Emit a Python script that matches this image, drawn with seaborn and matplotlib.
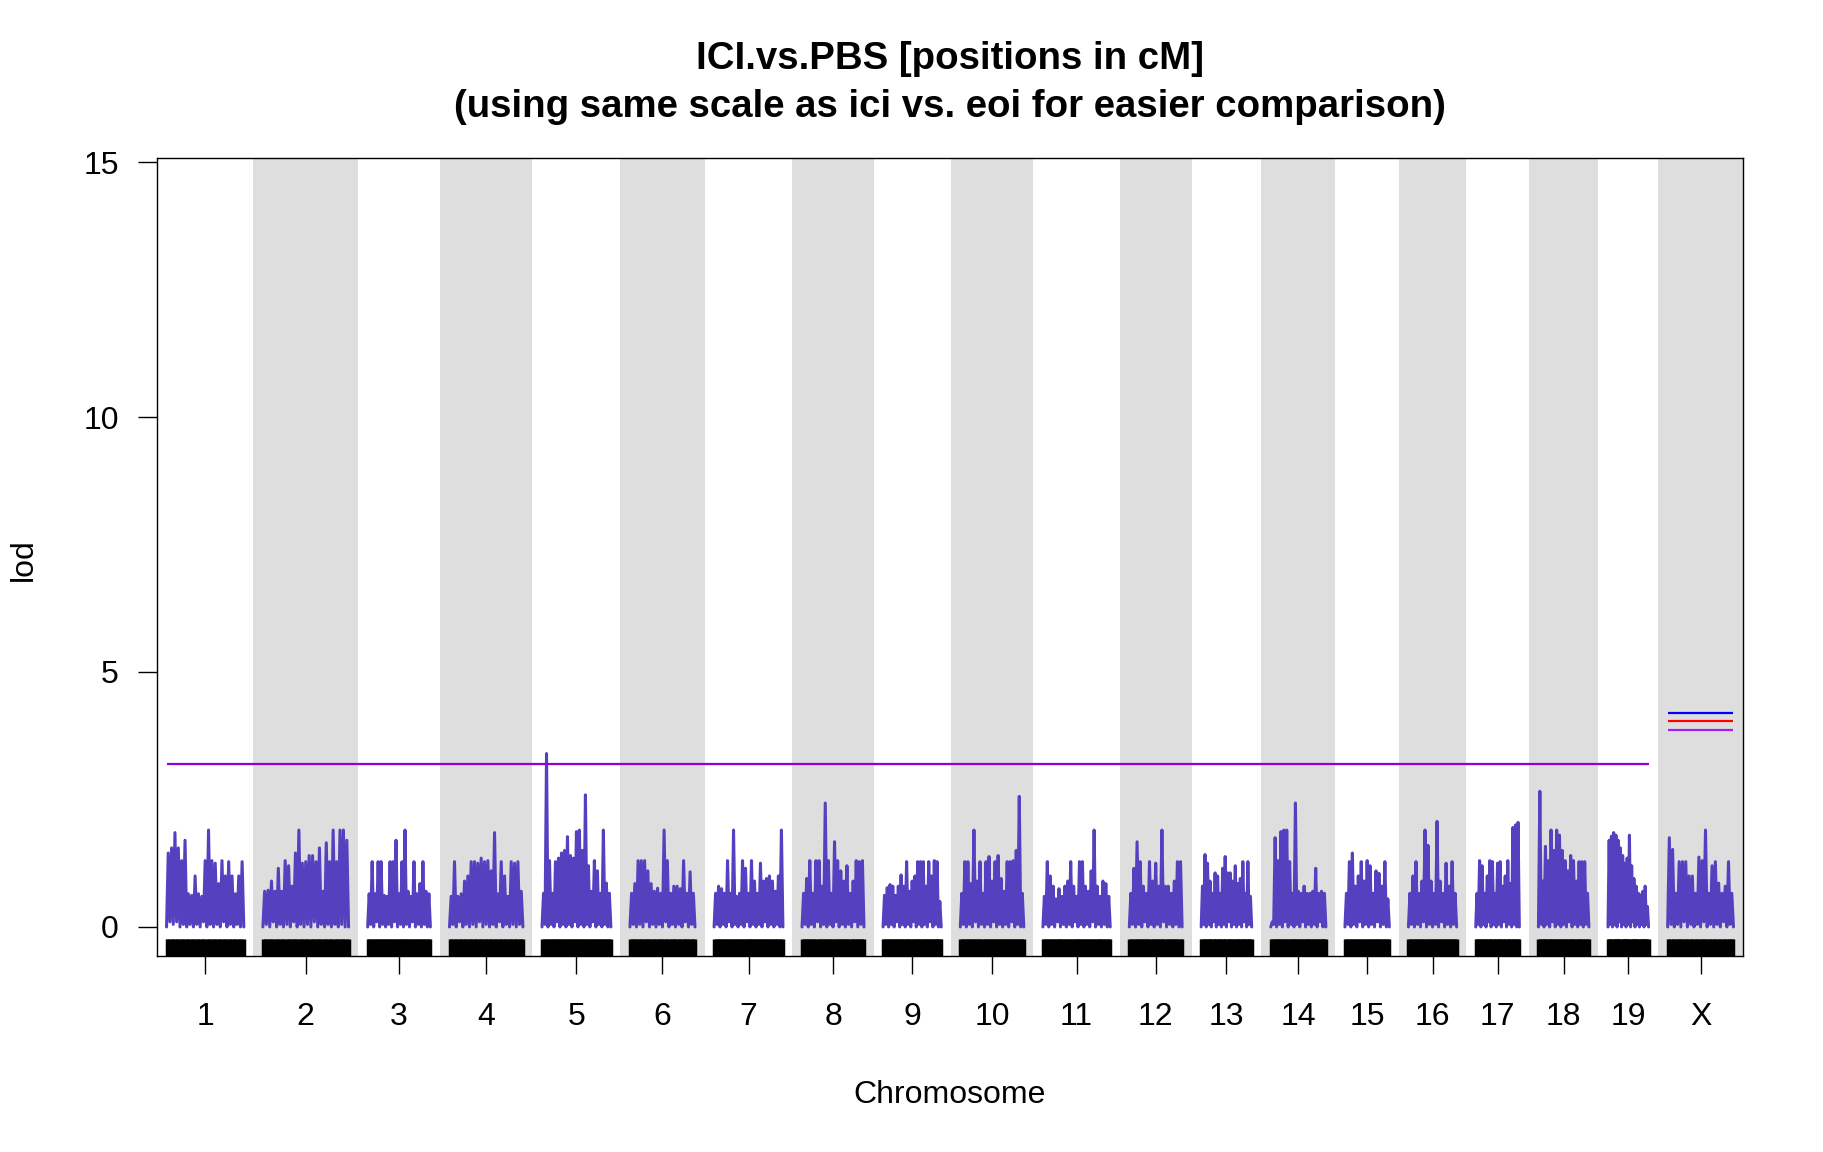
import numpy as np
import pandas as pd
import matplotlib
matplotlib.use("Agg")
import matplotlib.pyplot as plt
import seaborn as sns

# chromosome layout (cM) and gap between chromosomes
chrom_names = ['1', '2', '3', '4', '5', '6', '7', '8', '9', '10',
               '11', '12', '13', '14', '15', '16', '17', '18', '19', 'X']
chrom_len = [101, 112, 82, 96, 90, 85, 90, 81, 76, 83,
             88, 69, 66, 72, 58, 63, 57, 66, 53, 86]
gap = 25

# lod scores, marker by marker (approx.)
lod_chr1 = [0.0, 1.45, 0.1, 1.55, 0.05, 1.85, 0.1, 1.55, 0.0, 1.3, 0.05, 1.7, 0.0, 0.65, 0.05, 0.62,
            0.0, 1.0, 0.05, 0.65, 0.0, 0.6, 0.1, 1.3, 0.0, 1.9, 0.05, 1.3, 0.0, 1.25, 0.05, 0.85,
            0.0, 1.3, 0.1, 1.0, 0.0, 1.28, 0.05, 1.0, 0.0, 0.65, 0.05, 1.0, 0.0, 1.28, 0.0]
lod_chr2 = [0.0, 0.7, 0.05, 0.72, 0.0, 0.9, 0.1, 0.7, 0.0, 1.15, 0.05, 0.7, 0.0, 1.3, 0.05, 1.2,
            0.0, 0.8, 0.1, 1.45, 0.0, 1.9, 0.05, 1.25, 0.0, 1.28, 0.05, 1.4, 0.0, 1.4, 0.1, 1.28,
            0.0, 1.55, 0.05, 0.7, 0.0, 1.65, 0.05, 1.28, 0.0, 1.9, 0.05, 1.28, 0.0, 1.9, 0.05, 1.9,
            0.0, 1.7, 0.0]
lod_chr3 = [0.0, 0.65, 0.05, 1.28, 0.0, 0.65, 0.1, 1.28, 0.0, 1.28, 0.05, 0.62, 0.0, 0.6, 0.05, 1.28,
            0.0, 1.28, 0.1, 1.7, 0.0, 0.65, 0.05, 1.28, 0.0, 1.9, 0.05, 0.7, 0.0, 0.6, 0.1, 1.28,
            0.0, 0.65, 0.05, 0.85, 0.0, 1.28, 0.05, 0.7, 0.0, 0.65, 0.0]
lod_chr4 = [0.0, 0.6, 0.05, 1.28, 0.0, 0.6, 0.1, 0.65, 0.0, 0.9, 0.05, 1.0, 0.0, 1.28, 0.05, 1.28,
            0.0, 1.25, 0.1, 1.35, 0.0, 1.28, 0.05, 1.3, 0.0, 1.1, 0.05, 1.85, 0.0, 0.65, 0.1, 1.28,
            0.0, 1.0, 0.05, 0.6, 0.0, 1.28, 0.05, 1.25, 0.0, 1.28, 0.05, 0.7, 0.0]
lod_chr5 = [0.0, 0.66, 0.05, 3.4, 0.0, 1.3, 0.05, 0.66, 0.0, 1.28, 0.1, 1.35, 0.0, 1.45, 0.05, 1.5,
            0.0, 1.77, 0.05, 1.4, 0.0, 1.35, 0.1, 1.87, 0.0, 1.9, 0.05, 1.5, 0.0, 2.59, 0.05, 1.2,
            0.0, 0.7, 0.1, 1.3, 0.0, 1.1, 0.05, 0.66, 0.0, 1.9, 0.05, 0.86, 0.0, 0.66, 0.0]
lod_chr6 = [0.0, 0.66, 0.05, 0.85, 0.0, 1.3, 0.05, 1.3, 0.0, 1.3, 0.1, 1.1, 0.0, 0.85, 0.05, 0.7,
            0.0, 0.76, 0.05, 0.66, 0.0, 1.9, 0.1, 1.3, 0.0, 0.66, 0.05, 0.8, 0.0, 0.8, 0.05, 0.75,
            0.0, 1.3, 0.1, 0.66, 0.0, 1.08, 0.05, 0.66, 0.0]
lod_chr7 = [0.0, 0.66, 0.05, 0.8, 0.0, 0.75, 0.05, 0.66, 0.0, 1.3, 0.1, 0.66, 0.0, 1.9, 0.05, 0.6,
            0.0, 0.66, 0.05, 1.3, 0.0, 1.15, 0.1, 0.66, 0.0, 1.3, 0.05, 0.9, 0.0, 0.66, 0.05, 1.25,
            0.0, 0.9, 0.1, 0.95, 0.0, 1.0, 0.05, 0.9, 0.0, 0.7, 0.05, 1.0, 0.0, 1.9, 0.0]
lod_chr8 = [0.0, 0.66, 0.05, 0.95, 0.0, 1.3, 0.05, 0.66, 0.0, 1.3, 0.1, 1.3, 0.0, 0.8, 0.05, 2.43,
            0.0, 1.3, 0.05, 0.66, 0.0, 1.67, 0.1, 1.3, 0.0, 1.1, 0.05, 0.9, 0.0, 1.2, 0.05, 0.66,
            0.0, 0.9, 0.1, 1.3, 0.0, 1.28, 0.05, 1.3, 0.0]
lod_chr9 = [0.0, 0.62, 0.05, 0.77, 0.0, 0.83, 0.05, 0.8, 0.0, 0.62, 0.1, 0.8, 0.0, 1.02, 0.05, 0.8,
            0.0, 1.28, 0.05, 0.7, 0.0, 0.9, 0.1, 1.0, 0.0, 1.28, 0.05, 1.28, 0.0, 1.28, 0.05, 0.8,
            0.0, 1.28, 0.1, 1.0, 0.0, 1.3, 0.05, 1.28, 0.0, 0.5, 0.0]
lod_chr10 = [0.0, 0.66, 0.05, 1.28, 0.0, 1.28, 0.05, 0.85, 0.0, 1.9, 0.1, 0.9, 0.0, 1.28, 0.05, 0.66,
             0.0, 1.28, 0.05, 1.38, 0.0, 0.9, 0.1, 1.28, 0.0, 1.4, 0.05, 0.95, 0.0, 0.7, 0.05, 1.28,
             0.0, 1.28, 0.1, 1.3, 0.0, 1.5, 0.05, 2.56, 0.0, 0.66, 0.0]
lod_chr11 = [0.0, 0.6, 0.05, 1.28, 0.0, 1.0, 0.05, 0.8, 0.0, 0.55, 0.1, 0.75, 0.0, 0.6, 0.05, 0.8,
             0.0, 0.9, 0.05, 1.28, 0.0, 0.8, 0.1, 0.6, 0.0, 1.28, 0.05, 1.28, 0.0, 0.8, 0.05, 0.7,
             0.0, 1.1, 0.1, 1.9, 0.0, 0.8, 0.05, 0.6, 0.0, 0.9, 0.05, 0.85, 0.0, 0.6, 0.0]
lod_chr12 = [0.0, 0.66, 0.05, 1.15, 0.0, 1.67, 0.05, 1.28, 0.0, 0.8, 0.1, 0.66, 0.0, 1.28, 0.05, 0.9,
             0.0, 1.25, 0.05, 0.8, 0.0, 1.9, 0.1, 0.8, 0.0, 0.8, 0.05, 0.66, 0.0, 0.9, 0.05, 1.28,
             0.0, 1.28, 0.0]
lod_chr13 = [0.0, 0.8, 0.05, 1.42, 0.0, 1.25, 0.05, 0.9, 0.0, 0.66, 0.1, 1.06, 0.0, 1.0, 0.05, 0.66,
             0.0, 1.15, 0.05, 1.38, 0.0, 1.06, 0.1, 1.06, 0.0, 0.9, 0.05, 1.2, 0.0, 0.85, 0.05, 0.95,
             0.0, 1.28, 0.1, 0.66, 0.0, 1.28, 0.05, 0.6, 0.0]
lod_chr14 = [0.0, 0.1, 0.05, 1.75, 0.0, 1.3, 0.05, 1.87, 0.0, 1.9, 0.1, 1.9, 0.0, 1.28, 0.05, 0.66,
             0.0, 2.43, 0.05, 0.7, 0.0, 0.66, 0.1, 0.8, 0.0, 0.66, 0.05, 0.66, 0.0, 0.7, 0.05, 1.15,
             0.0, 0.66, 0.1, 0.7, 0.0, 0.66, 0.0]
lod_chr15 = [0.0, 0.66, 0.05, 1.28, 0.0, 1.45, 0.05, 0.8, 0.0, 1.0, 0.1, 1.28, 0.0, 0.9, 0.05, 1.3,
             0.0, 1.2, 0.05, 0.66, 0.0, 1.1, 0.1, 1.05, 0.0, 0.8, 0.05, 1.28, 0.0, 0.55, 0.0]
lod_chr16 = [0.0, 0.66, 0.05, 1.0, 0.0, 1.28, 0.05, 0.66, 0.0, 0.9, 0.1, 1.9, 0.0, 1.6, 0.05, 0.9,
             0.0, 0.66, 0.05, 2.07, 0.0, 0.9, 0.1, 0.66, 0.0, 1.25, 0.05, 0.8, 0.0, 1.28, 0.05, 0.66,
             0.0]
lod_chr17 = [0.0, 0.66, 0.05, 1.3, 0.0, 1.2, 0.05, 0.66, 0.0, 1.0, 0.1, 1.3, 0.0, 1.28, 0.05, 0.66,
             0.0, 1.25, 0.05, 1.28, 0.0, 0.8, 0.1, 1.0, 0.0, 1.3, 0.05, 0.85, 0.0, 1.95, 0.05, 2.0,
             0.0, 2.05, 0.0]
lod_chr18 = [0.0, 2.66, 0.05, 0.9, 0.0, 1.58, 0.05, 1.3, 0.0, 1.9, 0.1, 1.5, 0.0, 1.9, 0.05, 1.8,
             0.0, 1.5, 0.05, 1.3, 0.0, 1.1, 0.1, 1.4, 0.0, 1.3, 0.05, 0.9, 0.0, 1.28, 0.05, 1.28,
             0.0, 1.28, 0.05, 0.66, 0.0]
lod_chr19 = [0.0, 1.7, 0.05, 1.78, 0.0, 1.85, 0.05, 1.8, 0.0, 1.7, 0.1, 1.55, 0.0, 1.4, 0.05, 1.25,
             0.0, 1.35, 0.05, 1.8, 0.0, 1.2, 0.1, 0.95, 0.0, 0.8, 0.05, 0.66, 0.0, 0.63, 0.05, 0.7,
             0.0, 0.8, 0.05, 0.4, 0.0]
lod_chrX = [0.0, 1.75, 0.05, 1.52, 0.0, 0.66, 0.05, 1.28, 0.0, 1.28, 0.1, 1.28, 0.0, 1.0, 0.05, 1.0,
            0.0, 0.66, 0.05, 1.37, 0.0, 1.3, 0.1, 1.9, 0.0, 0.66, 0.05, 1.2, 0.0, 1.28, 0.05, 0.86,
            0.0, 0.66, 0.1, 0.8, 0.0, 1.28, 0.05, 0.66, 0.0]

lod_values = [lod_chr1, lod_chr2, lod_chr3, lod_chr4, lod_chr5, lod_chr6, lod_chr7,
              lod_chr8, lod_chr9, lod_chr10, lod_chr11, lod_chr12, lod_chr13, lod_chr14,
              lod_chr15, lod_chr16, lod_chr17, lod_chr18, lod_chr19, lod_chrX]

# significance thresholds
auto_thresh = 3.2
x_thresh = [4.19, 4.04, 3.87]
x_thresh_colors = ['#0000FF', '#FF0000', '#A020F0']

lod_color = '#5541C0'
band_color = '#DEDEDE'

# build long table with cumulative positions
frames = []
starts, ends = [], []
offset = 0
for name, length, lods in zip(chrom_names, chrom_len, lod_values):
    pos = offset + np.linspace(0, length, len(lods))
    frames.append(pd.DataFrame({'chr': name, 'pos': pos, 'lod': lods}))
    starts.append(offset)
    ends.append(offset + length)
    offset += length + gap
df = pd.concat(frames, ignore_index=True)
mids = [(s + e) / 2 for s, e in zip(starts, ends)]

sns.set_style("white")
plt.rcParams['font.family'] = ['Liberation Sans', 'DejaVu Sans']
plt.rcParams['text.color'] = 'black'
plt.rcParams['axes.labelcolor'] = 'black'

W, H = 1824, 1152
left, right, top, bottom = 157, 1743, 158, 956

fig = plt.figure(figsize=(W / 100, H / 100), dpi=100)
ax = fig.add_axes([left / W, 1 - bottom / H, (right - left) / W, (bottom - top) / H])

for i in range(1, len(chrom_names), 2):
    ax.axvspan(starts[i] - gap / 2, ends[i] + gap / 2, color=band_color, lw=0, zorder=0)

sns.lineplot(data=df, x='pos', y='lod', units='chr', estimator=None, sort=False,
             color=lod_color, lw=2.2, ax=ax, zorder=2)

# marker rug along the bottom
ax.vlines(df['pos'], -0.8, -0.235, color='black', lw=2.5, zorder=3)

ax.hlines(auto_thresh, starts[0], ends[-2], color='#9400D3', lw=1.6, zorder=4)
for val, col in zip(x_thresh, x_thresh_colors):
    ax.hlines(val, starts[-1], ends[-1], color=col, lw=1.6, zorder=4)

ax.set_xlim(starts[0] - gap / 2, ends[-1] + gap / 2)
ax.set_ylim(-0.57, 15.08)
ax.set_xticks(mids)
ax.set_xticklabels(chrom_names)
ax.set_yticks([0, 5, 10, 15])
ax.set_xlabel('')
ax.set_ylabel('')
ax.tick_params(axis='x', bottom=True, length=13, width=1.0, pad=20, labelsize=23,
               direction='out', colors='black')
ax.tick_params(axis='y', left=True, length=13.5, width=1.0, pad=14, labelsize=23,
               direction='out', colors='black')
for s in ax.spines.values():
    s.set_color('black')
    s.set_linewidth(1.0)
    s.set_visible(True)

cx = (left + right) / 2 / W
fig.text(cx, 1 - 69 / H, 'ICI.vs.PBS [positions in cM]', ha='center', va='baseline',
         fontsize=27.6, fontweight='bold', color='black')
fig.text(cx, 1 - 117 / H, '(using same scale as ici vs. eoi for easier comparison)',
         ha='center', va='baseline', fontsize=27.6, fontweight='bold', color='black')
fig.text(cx, 1 - 1103 / H, 'Chromosome', ha='center', va='baseline', fontsize=23, color='black')
fig.text(24 / W, 0.514, 'lod', ha='center', va='center', rotation=90, fontsize=23, color='black')

fig.savefig('out.png', dpi=100)
